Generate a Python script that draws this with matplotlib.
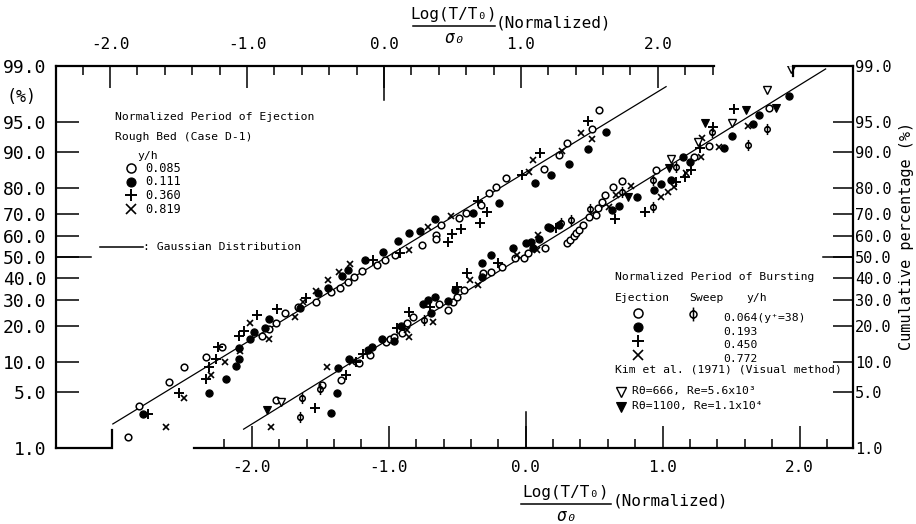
import math
import numpy as np
import matplotlib
matplotlib.use("Agg")
import matplotlib.pyplot as plt
from matplotlib.lines import Line2D
from matplotlib.path import Path

plt.rcParams['font.family'] = ['DejaVu Sans Mono', 'DejaVu Sans']

# values
# x = Log(T/To)/sigma_o (normalized), p = cumulative percentage
# left group -> upper x axis: normalized period of ejection, rough bed (case D-1)
rough_085_x = [-1.87, -1.79, -1.57, -1.46, -1.30, -1.18, -0.89, -0.84, -0.79, -0.72, -0.63, -0.50,
               -0.39, -0.32, -0.26, -0.22, -0.16, -0.05, 0.01, 0.08, 0.28, 0.38, 0.38, 0.42, 0.55,
               0.60, 0.71, 0.77, 0.82, 0.89, 1.17, 1.28, 1.34, 1.52, 1.57]
rough_085_p = [1.4, 3.5, 6.4, 9.0, 11.2, 13.6, 16.8, 18.9, 21.2, 24.6, 27.3, 29.3,
               33.6, 35.4, 38.2, 40.5, 43.2, 46.1, 48.5, 51.0, 55.8, 60.6, 58.5, 65.2, 68.1,
               70.3, 73.7, 78.1, 80.2, 83.3, 85.7, 89.3, 91.7, 94.0, 96.3]
rough_111_x = [-1.76, -1.28, -1.15, -1.08, -1.06, -1.06, -0.98, -0.95, -0.87, -0.84, -0.61, -0.48,
               -0.41, -0.31, -0.26, -0.14, -0.01, 0.10, 0.18, 0.26, 0.37, 0.65, 0.84, 1.10, 1.22,
               1.35, 1.49, 1.62]
rough_111_p = [2.8, 4.9, 6.8, 9.2, 10.6, 13.3, 15.8, 18.1, 19.3, 22.4, 26.6, 32.9,
               35.2, 40.9, 43.7, 48.5, 52.6, 57.7, 61.6, 62.6, 67.7, 70.3, 74.6, 81.5, 84.1,
               87.1, 90.6, 93.6]
rough_360_x = [-1.72, -1.50, -1.30, -1.28, -1.23, -1.21, -1.06, -1.02, -0.93, -0.78, -0.57, -0.08,
               0.12, 0.47, 0.50, 0.56, 0.70, 0.75, 0.69, 1.01, 1.14, 1.49]
rough_360_p = [2.8, 4.9, 6.8, 9.0, 10.6, 13.7, 16.8, 18.5, 24.0, 26.2, 30.7, 48.5,
               51.8, 57.4, 61.0, 63.2, 66.2, 70.9, 75.2, 84.1, 89.8, 95.1]
rough_819_x = [-1.59, -1.46, -1.26, -1.16, -1.05, -0.98, -0.84, -0.65, -0.59, -0.50, -0.41, -0.33,
               -0.25, 0.18, 0.32, 0.49, 1.06, 1.09, 1.30, 1.44, 1.52]
rough_819_p = [1.9, 4.3, 7.5, 10.1, 12.7, 21.2, 15.8, 23.4, 29.3, 34.1, 39.0, 42.9,
               46.6, 53.4, 64.4, 69.1, 85.1, 88.1, 90.2, 93.5, 92.5]

# right group -> lower x axis: normalized period of bursting
ej_064_x = [-1.82, -1.49, -1.35, -1.22, -1.14, -1.02, -0.99, -0.96, -0.90, -0.87, -0.82, -0.63,
            -0.57, -0.53, -0.50, -0.45, -0.31, -0.25, -0.17, -0.08, -0.01, 0.02, 0.14, 0.30,
            0.32, 0.35, 0.37, 0.39, 0.42, 0.46, 0.51, 0.53, 0.56, 0.58, 0.64, 0.70, 0.95,
            1.23, 1.34, 1.78]
ej_064_p = [4.1, 6.0, 6.7, 9.8, 11.6, 15.1, 15.9, 16.6, 17.6, 21.0, 23.4, 28.2,
            25.9, 29.1, 31.4, 34.4, 42.1, 42.9, 45.3, 49.6, 49.4, 51.8, 54.2, 56.6,
            58.2, 60.1, 61.4, 62.9, 65.2, 68.8, 69.6, 72.3, 75.0, 77.5, 80.4, 82.4, 85.5,
            88.8, 91.2, 96.5]
ej_193_x = [-1.42, -1.38, -1.37, -1.29, -1.15, -1.12, -1.05, -0.96, -0.91, -0.75, -0.71, -0.69,
            -0.66, -0.57, -0.52, -0.32, -0.32, -0.25, -0.09, 0.00, 0.04, 0.05, 0.10, 0.16,
            0.18, 0.24, 0.63, 0.68, 0.81, 0.94, 0.99, 1.06, 1.15, 1.20, 1.45, 1.51, 1.66,
            1.70, 1.92]
ej_193_p = [2.9, 4.9, 8.8, 10.7, 12.9, 13.7, 15.9, 15.3, 20.1, 28.2, 30.0, 24.6,
            31.4, 29.6, 34.4, 46.9, 40.5, 51.0, 54.2, 56.6, 57.4, 54.2, 58.7, 64.4,
            63.9, 65.2, 71.6, 73.3, 76.9, 79.3, 81.3, 82.6, 88.9, 87.7, 90.7, 93.0, 94.8,
            95.8, 97.5]
ej_450_x = [-1.54, -1.31, -1.24, -1.19, -0.94, -0.85, -0.70, -0.50, -0.43, -0.20, 0.22, 0.65,
            0.87, 1.10, 1.16, 1.21, 1.27, 1.37, 1.52]
ej_450_p = [3.3, 7.5, 10.1, 11.8, 19.3, 25.3, 27.2, 35.9, 42.1, 46.9, 63.7, 67.7,
            70.9, 82.0, 83.6, 85.5, 90.7, 94.3, 96.4]
ej_772_x = [-1.86, -1.45, -1.27, -0.87, -0.85, -0.68, -0.41, -0.35, -0.06, 0.08, 0.09, 0.61,
            0.66, 0.77, 0.99, 1.04, 1.08, 1.17, 1.28, 1.29, 1.41, 1.62]
ej_772_p = [1.9, 9.1, 10.1, 18.7, 16.6, 21.5, 39.0, 36.7, 51.0, 53.4, 60.6, 73.0,
            77.5, 80.6, 76.9, 78.7, 80.4, 84.6, 88.8, 92.6, 90.9, 94.5]
sweep_064_x = [-1.65, -1.63, -1.50, -0.74, 0.26, 0.33, 0.47, 0.70, 0.93, 0.93, 1.10, 1.36,
               1.62, 1.76]
sweep_064_p = [2.6, 4.3, 5.4, 22.1, 66.2, 67.4, 71.9, 78.7, 73.0, 82.6, 86.4, 93.6,
               91.4, 94.0]
kim_666_x = [-1.79, 1.06, 1.26, 1.51, 1.76, 1.94]
kim_666_p = [3.9, 88.3, 92.0, 94.9, 97.9, 98.9]
kim_1100_x = [-1.89, 0.75, 1.05, 1.31, 1.61, 1.83]
kim_1100_p = [3.1, 76.9, 86.0, 94.9, 96.3, 96.5]

# Gaussian distribution lines (straight on probability paper), end points
gauss_top_x = [-1.98, 2.06]
gauss_top_p = [2.1, 98.1]
gauss_bot_x = [-2.06, 2.19]
gauss_bot_p = [1.8, 98.9]

pct_ticks = [1, 5, 10, 20, 30, 40, 50, 60, 70, 80, 90, 95, 99]
pct_labels = ['%.1f' % v for v in pct_ticks]
x_major = [-2, -1, 0, 1, 2]
x_major_labels = ['-2.0', '-1.0', '0.0', '1.0', '2.0']


# normal probability scale
_erf = np.vectorize(math.erf, otypes=[float])


def norm_cdf(z):
    return 0.5 * (1.0 + _erf(np.asarray(z, dtype=float) / math.sqrt(2.0)))


def pct_to_z(p):
    q = np.clip(np.asarray(p, dtype=float) / 100.0, 1e-7, 1 - 1e-7)
    lo = np.full(q.shape, -6.0)
    hi = np.full(q.shape, 6.0)
    for _ in range(45):
        mid = 0.5 * (lo + hi)
        below = norm_cdf(mid) < q
        lo = np.where(below, mid, lo)
        hi = np.where(below, hi, mid)
    return 0.5 * (lo + hi)


def z_to_pct(z):
    return 100.0 * norm_cdf(z)


phi_marker = Path.make_compound_path(
    Path.unit_circle(), Path([[0, -2.0], [0, 2.0]], [Path.MOVETO, Path.LINETO]))

STY = {
    'open': dict(marker='o', ms=4.8, mfc='white', mec='k', mew=1.1, ls='none'),
    'fill': dict(marker='o', ms=5.2, mfc='k', mec='k', mew=0.8, ls='none'),
    'plus': dict(marker='+', ms=7, mec='k', mew=1.4, ls='none'),
    'cross': dict(marker='x', ms=4.8, mec='k', mew=1.2, ls='none'),
    'phi': dict(marker=phi_marker, ms=8, mfc='none', mec='k', mew=1.1, ls='none'),
    'tri_open': dict(marker='v', ms=6, mfc='white', mec='k', mew=1.0, ls='none'),
    'tri_fill': dict(marker='v', ms=6, mfc='k', mec='k', mew=0.8, ls='none'),
}

W, H = 916, 524


def fx(px):
    return px / W


def fy(py):
    return 1 - py / H


fig = plt.figure(figsize=(W / 100, H / 100), dpi=100)
ax = fig.add_axes([fx(56), fy(448), (853 - 56) / W, (448 - 66) / H])
ax.set_yscale('function', functions=(pct_to_z, z_to_pct))
ax_t = ax.twiny()
ax_r = ax.twinx()
ax_r.set_yscale('function', functions=(pct_to_z, z_to_pct))

# left group on the top axis
ax_t.plot(gauss_top_x, gauss_top_p, color='k', lw=0.9)
ax_t.plot(rough_085_x, rough_085_p, **STY['open'])
ax_t.plot(rough_111_x, rough_111_p, **STY['fill'])
ax_t.plot(rough_360_x, rough_360_p, **STY['plus'])
ax_t.plot(rough_819_x, rough_819_p, **STY['cross'])

# right group on the bottom axis
ax.plot(gauss_bot_x, gauss_bot_p, color='k', lw=0.9)
ax.plot(ej_064_x, ej_064_p, **STY['open'])
ax.plot(ej_193_x, ej_193_p, **STY['fill'])
ax.plot(ej_450_x, ej_450_p, **STY['plus'])
ax.plot(ej_772_x, ej_772_p, **STY['cross'])
ax.plot(sweep_064_x, sweep_064_p, **STY['phi'])
ax.plot(kim_666_x, kim_666_p, **STY['tri_open'])
ax.plot(kim_1100_x, kim_1100_p, **STY['tri_fill'])

ax.set_xlim(-3.43, 2.39)
ax_t.set_xlim(-2.395, 3.425)
ax.set_ylim(1, 99)
ax_r.set_ylim(1, 99)

# ticks
ax.set_xticks(x_major, x_major_labels)
ax.set_xticks(np.arange(-2.2, 2.21, 0.2), minor=True)
ax_t.set_xticks(x_major, x_major_labels)
ax_t.set_xticks(np.arange(-2.2, 2.41, 0.2), minor=True)
ax.set_yticks(pct_ticks, pct_labels)
ax.yaxis.set_minor_locator(matplotlib.ticker.NullLocator())
ax_r.set_yticks(pct_ticks, pct_labels)
ax_r.yaxis.set_minor_locator(matplotlib.ticker.NullLocator())

ax.tick_params(axis='x', which='major', direction='in', length=16, width=1.1, pad=8.5, labelsize=11.5)
ax.tick_params(axis='x', which='minor', direction='in', length=6.5, width=1.1)
ax_t.tick_params(axis='x', which='major', direction='in', length=16, width=1.1, pad=10, labelsize=11.5)
ax_t.tick_params(axis='x', which='minor', direction='in', length=6.5, width=1.1)
ax.tick_params(axis='y', which='major', direction='in', length=16.5, width=1.1, pad=7, labelsize=13)
ax_r.tick_params(axis='y', which='major', direction='in', length=14.5, width=1.1, pad=1.5, labelsize=11)

# longer ticks at zero and 50 %
ax.axvline(0, ymin=0, ymax=36 / 382, color='k', lw=1.1)
ax_t.axvline(0, ymin=1 - 34 / 382, ymax=1, color='k', lw=1.1)
ax.axhline(50, xmin=0, xmax=35 / 797, color='k', lw=1.1)
ax.axhline(50, xmin=1 - 30 / 797, xmax=1, color='k', lw=1.1)

# frame: broken like the hand drawn original
for a in (ax_t, ax_r):
    for s in a.spines.values():
        s.set_visible(False)
ax_t.spines['top'].set_visible(True)
ax_t.spines['top'].set_bounds(-2.395, 2.41)
ax.spines['top'].set_visible(False)
ax.spines['bottom'].set_bounds(-2.42, 2.39)
for s in (ax.spines['left'], ax.spines['bottom'], ax.spines['right'], ax_t.spines['top']):
    s.set_linewidth(1.6)
ax.plot([0, 56 / 797, 56 / 797], [0, 0, 18 / 382], transform=ax.transAxes,
        color='k', lw=1.6, clip_on=False, solid_joinstyle='miter')
ax.plot([737 / 797, 737 / 797, 1], [1 - 10 / 382, 1, 1], transform=ax.transAxes,
        color='k', lw=1.6, clip_on=False, solid_joinstyle='miter')

# axis titles
fig.text(fx(22), fy(97), '(%)', ha='center', va='center', fontsize=12)
fig.text(fx(907), fy(236), 'Cumulative percentage (%)', rotation=90,
         ha='center', va='center', fontsize=11)


def frac_label(cx, cy, left, right, next_x):
    fig.text(fx(cx), fy(cy - 11), 'Log(T/T₀)', ha='center', va='center', fontsize=11.5)
    fig.add_artist(Line2D([fx(left), fx(right)], [fy(cy), fy(cy)],
                          transform=fig.transFigure, color='k', lw=1.1))
    fig.text(fx(cx), fy(cy + 12), 'σ₀', ha='center', va='center', fontsize=12, style='italic')
    fig.text(fx(next_x), fy(cy - 3), '(Normalized)', ha='left', va='center', fontsize=11.5)


frac_label(454, 26, 413, 495, 496)
frac_label(566, 504, 521, 611, 613)


def key(px, py, style, size=None):
    kw = dict(STY[style])
    if size:
        kw['ms'] = size
    fig.add_artist(Line2D([fx(px)], [fy(py)], transform=fig.transFigure, **kw))


def note(px, py, s, size=8.2, ha='left'):
    fig.text(fx(px), fy(py), s, ha=ha, va='center', fontsize=size)


# left key
note(115, 117, 'Normalized Period of Ejection')
note(115, 137, 'Rough Bed (Case D-1)')
note(148, 156, 'y/h', ha='center')
for row, (st, lab) in enumerate(zip(['open', 'fill', 'plus', 'cross'],
                                    ['0.085', '0.111', '0.360', '0.819'])):
    key(131, 168 + row * 13.7, st, 6.5 if st != 'plus' else 8)
    note(145, 168 + row * 13.7, lab, size=8.6)
fig.add_artist(Line2D([fx(100), fx(143)], [fy(247), fy(247)], transform=fig.transFigure,
                      color='k', lw=1.1))
note(143, 247, ': Gaussian Distribution')

# right key
note(615, 277, 'Normalized Period of Bursting')
note(615, 298, 'Ejection')
note(689, 298, 'Sweep')
note(757, 298, 'y/h', ha='center')
for row, (st, lab) in enumerate(zip(['open', 'fill', 'plus', 'cross'],
                                    ['0.064(y⁺=38)', '0.193', '0.450', '0.772'])):
    key(638, 313 + row * 14, st, 6.5 if st != 'plus' else 9)
    note(723, 318 + row * 13.7, lab)
key(693, 314, 'phi', 10)
note(615, 370, 'Kim et al. (1971) (Visual method)')
key(621, 392, 'tri_open', 7.5)
note(632, 391, 'Rθ=666, Re=5.6x10³')
key(621, 407, 'tri_fill', 7.5)
note(632, 406, 'Rθ=1100, Re=1.1x10⁴')

fig.savefig('out.png', dpi=100)
